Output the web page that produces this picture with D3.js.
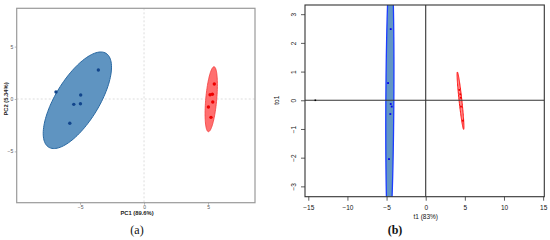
<!DOCTYPE html>
<html><head><meta charset="utf-8">
<script src="https://cdn.jsdelivr.net/npm/d3@7"></script>
<style>html,body{margin:0;padding:0;background:#fff;}svg{display:block;}</style>
</head><body>
<svg id="c" width="550" height="240"></svg>
<script>
// ---- Panel (a): PCA scores ----
const pcaBlueX = [-6.88, -3.57, -4.95, -5.49, -4.97, -5.80];
const pcaBlueY = [0.67, 2.77, 0.38, -0.51, -0.45, -2.32];
const pcaRedX = [5.49, 5.16, 5.34, 5.37, 5.03, 5.23];
const pcaRedY = [1.43, 0.41, 0.45, -0.29, -0.76, -1.75];
// ellipse: [cx, cy, majorX, majorY, minorX, minorY] in data units
const pcaBlueEllipse = [-5.21, -0.12, 2.24, 4.48, -1.45, 1.09];
const pcaRedEllipse = [5.25, -0.02, 0.223, 3.10, 0.427, -0.046];
const pcaTicks = [-5, 0, 5];
const pcaXLabel = "PC1 (89.6%)";
const pcaYLabel = "PC2 (5.34%)";

// ---- Panel (b): OPLS-DA scores ----
const oplsBlueX = [-4.47, -4.81, -4.47, -4.34, -4.52, -4.69];
const oplsBlueY = [2.48, 0.60, -0.13, -0.22, -0.48, -2.05];
const oplsRedX = [4.30, 4.42, 4.47, 4.51, 4.76];
const oplsRedY = [0.36, 0.21, 0.09, -0.22, -0.71];
const oplsOtherX = [-14.1];
const oplsOtherY = [0.0];
const oplsBlueEllipse = [-4.58, 0.03, 0.11, 4.8, 0.51, 0.0];
const oplsRedEllipse = [4.445, -0.015, -0.40, 1.00, 0.18, -0.005];
const oplsXTicks = [-15, -10, -5, 0, 5, 10, 15];
const oplsYTicks = [-3, -2, -1, 0, 1, 2, 3];
const oplsXLabel = "t1 (83%)";
const oplsYLabel = "to1";

const svg = d3.select("#c");

function ellipsePath(e, x, y) {
  const pts = d3.range(0, 361, 3).map(a => {
    const t = a * Math.PI / 180;
    return [x(e[0] + Math.cos(t) * e[2] + Math.sin(t) * e[4]),
            y(e[1] + Math.cos(t) * e[3] + Math.sin(t) * e[5])];
  });
  return d3.line()(pts) + "Z";
}

// ---------- Panel (a) ----------
{
  const L = 16.7, R = 255, T = 8.3, B = 202.7;
  const x = d3.scaleLinear().domain([-9.95, 8.67]).range([L, R]);
  const y = d3.scaleLinear().domain([-9.9, 8.66]).range([B, T]);
  const g = svg.append("g");
  g.append("defs").append("clipPath").attr("id", "clipA")
    .append("rect").attr("x", L).attr("y", T).attr("width", R - L).attr("height", B - T);
  g.append("line").attr("x1", x(0)).attr("x2", x(0)).attr("y1", T).attr("y2", B)
    .attr("stroke", "#d4d4d4").attr("stroke-width", 0.8).attr("stroke-dasharray", "2,2");
  g.append("line").attr("x1", L).attr("x2", R).attr("y1", y(0)).attr("y2", y(0))
    .attr("stroke", "#d4d4d4").attr("stroke-width", 0.8).attr("stroke-dasharray", "2,2");
  const pg = g.append("g").attr("clip-path", "url(#clipA)");
  pg.append("path").attr("d", ellipsePath(pcaBlueEllipse, x, y))
    .attr("fill", "#5f94c1").attr("stroke", "#2a69a2").attr("stroke-width", 1);
  pg.append("path").attr("d", ellipsePath(pcaRedEllipse, x, y))
    .attr("fill", "#ff6f6f").attr("stroke", "#f23a3a").attr("stroke-width", 0.8);
  pg.selectAll("circle.b").data(pcaBlueX).enter().append("circle")
    .attr("cx", (d) => x(d)).attr("cy", (d, i) => y(pcaBlueY[i])).attr("r", 1.7).attr("fill", "#12458c");
  pg.selectAll("circle.r").data(pcaRedX).enter().append("circle")
    .attr("cx", (d) => x(d)).attr("cy", (d, i) => y(pcaRedY[i])).attr("r", 1.7).attr("fill", "#ee0000");
  g.append("rect").attr("x", L).attr("y", T).attr("width", R - L).attr("height", B - T)
    .attr("fill", "none").attr("stroke", "#9a9a9a").attr("stroke-width", 1.2);
  const xa = g.append("g").attr("transform", `translate(0,${B})`)
    .call(d3.axisBottom(x).tickValues(pcaTicks).tickSize(2).tickPadding(0.8).tickFormat(d3.format("d")));
  const ya = g.append("g").attr("transform", `translate(${L},0)`)
    .call(d3.axisLeft(y).tickValues(pcaTicks).tickSize(2).tickPadding(1.5).tickFormat(d3.format("d")));
  [xa, ya].forEach(a => {
    a.select(".domain").remove();
    a.selectAll(".tick line").attr("stroke", "#999").attr("stroke-width", 0.7);
    a.selectAll("text").attr("font-family", "Liberation Sans, Arial, sans-serif")
      .attr("font-size", 5).attr("fill", "#555");
  });
  g.append("text").attr("x", x(0) - 7).attr("y", 214.6).attr("text-anchor", "middle")
    .attr("font-family", "Liberation Sans, Arial, sans-serif").attr("font-weight", "bold")
    .attr("font-size", 5.8).attr("fill", "#222").text(pcaXLabel);
  g.append("text").attr("transform", `translate(8,${y(0)}) rotate(-90)`)
    .attr("text-anchor", "middle")
    .attr("font-family", "Liberation Sans, Arial, sans-serif").attr("font-weight", "bold")
    .attr("font-size", 5.8).attr("fill", "#222").text(pcaYLabel);
  g.append("text").attr("x", 137).attr("y", 234).attr("text-anchor", "middle")
    .attr("font-family", "Liberation Serif, DejaVu Serif, serif")
    .attr("font-size", 12).attr("fill", "#111").text("(a)");
}

// ---------- Panel (b) ----------
{
  const L = 305, R = 544.3, T = 5, B = 196.7;
  const x = d3.scaleLinear().domain([-15.42, 15.15]).range([L, R]);
  const y = d3.scaleLinear().domain([-3.36, 3.32]).range([B, T]);
  const g = svg.append("g");
  g.append("defs").append("clipPath").attr("id", "clipB")
    .append("rect").attr("x", L).attr("y", T).attr("width", R - L).attr("height", B - T);
  const pg = g.append("g").attr("clip-path", "url(#clipB)");
  pg.append("path").attr("d", ellipsePath(oplsBlueEllipse, x, y))
    .attr("fill", "#6296c4").attr("stroke", "#1c3cff").attr("stroke-width", 1.3);
  pg.append("path").attr("d", ellipsePath(oplsRedEllipse, x, y))
    .attr("fill", "#ff8a8a").attr("stroke", "#ff1010").attr("stroke-width", 1);
  pg.append("line").attr("x1", L).attr("x2", R).attr("y1", y(0)).attr("y2", y(0))
    .attr("stroke", "#333").attr("stroke-width", 1.1);
  pg.append("line").attr("x1", x(0)).attr("x2", x(0)).attr("y1", T).attr("y2", B)
    .attr("stroke", "#333").attr("stroke-width", 1.1);
  pg.selectAll("rect.b").data(oplsBlueX).enter().append("rect")
    .attr("x", d => x(d) - 0.9).attr("y", (d, i) => y(oplsBlueY[i]) - 0.9)
    .attr("width", 1.8).attr("height", 1.8).attr("fill", "#0000ee");
  pg.selectAll("rect.r").data(oplsRedX).enter().append("rect")
    .attr("x", d => x(d) - 0.9).attr("y", (d, i) => y(oplsRedY[i]) - 0.9)
    .attr("width", 1.8).attr("height", 1.8).attr("fill", "#ee0000");
  pg.selectAll("rect.o").data(oplsOtherX).enter().append("rect")
    .attr("x", d => x(d) - 0.8).attr("y", (d, i) => y(oplsOtherY[i]) - 0.8)
    .attr("width", 1.6).attr("height", 1.6).attr("fill", "#000");
  g.append("rect").attr("x", L).attr("y", T).attr("width", R - L).attr("height", B - T)
    .attr("fill", "none").attr("stroke", "#333").attr("stroke-width", 1.1);
  const xa = g.append("g").attr("transform", `translate(0,${B})`)
    .call(d3.axisBottom(x).tickValues(oplsXTicks).tickSize(4).tickPadding(4.5).tickFormat(d3.format("d")));
  const ya = g.append("g").attr("transform", `translate(${L},0)`)
    .call(d3.axisLeft(y).tickValues(oplsYTicks).tickSize(4).tickPadding(1.5).tickFormat(d3.format("d")));
  [xa, ya].forEach(a => {
    a.select(".domain").remove();
    a.selectAll(".tick line").attr("stroke", "#333").attr("stroke-width", 0.8);
    a.selectAll("text").attr("font-family", "Liberation Sans, Arial, sans-serif")
      .attr("font-size", 6.5).attr("fill", "#111").text(d => d < 0 ? "\u2212" + Math.abs(d) : d);
  });
  ya.selectAll(".tick text").attr("text-anchor", "middle").attr("dy", null)
    .attr("transform", `translate(-11,0) rotate(-90)`).attr("x", 0).attr("y", 2.2);
  g.append("text").attr("x", x(0)).attr("y", 218.5).attr("text-anchor", "middle")
    .attr("font-family", "Liberation Sans, Arial, sans-serif")
    .attr("font-size", 6.5).attr("fill", "#111").text(oplsXLabel);
  g.append("text").attr("transform", `translate(279,${y(0)}) rotate(-90)`)
    .attr("text-anchor", "middle")
    .attr("font-family", "Liberation Sans, Arial, sans-serif")
    .attr("font-size", 6.5).attr("fill", "#111").text(oplsYLabel);
  g.append("text").attr("x", 395).attr("y", 234).attr("text-anchor", "middle")
    .attr("font-family", "Liberation Serif, DejaVu Serif, serif").attr("font-weight", "bold")
    .attr("font-size", 12).attr("fill", "#111").text("(b)");
}
</script>
</body></html>
